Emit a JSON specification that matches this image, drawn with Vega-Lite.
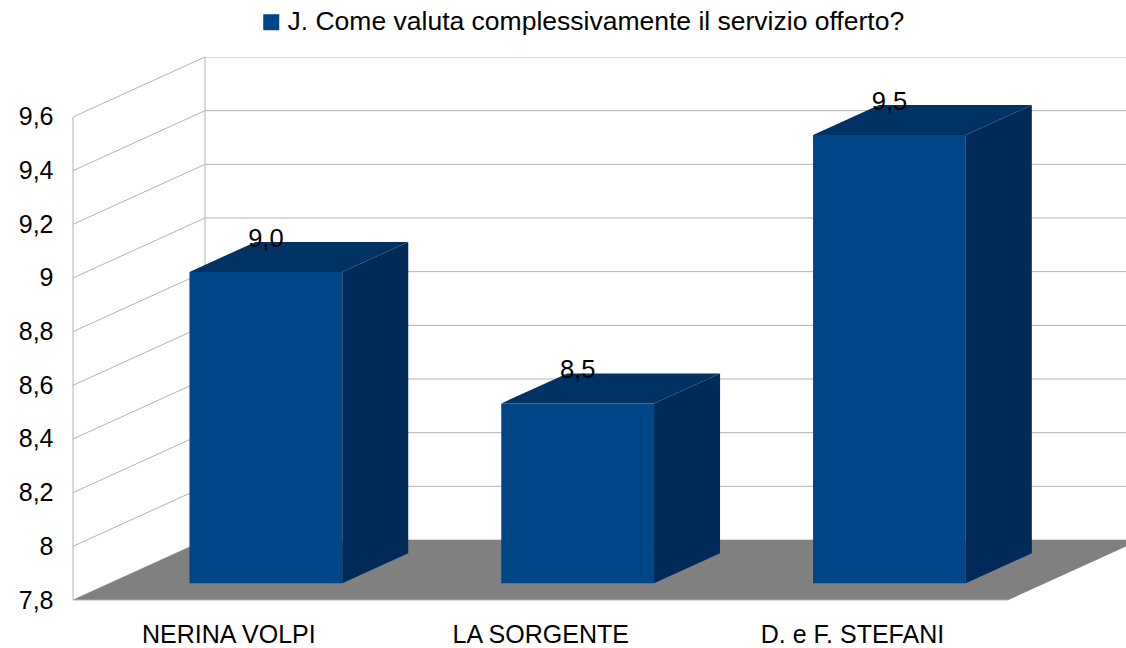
{
  "$schema": "https://vega.github.io/schema/vega-lite/v6.json",
  "autosize": {"type": "none"},
  "width": 1053,
  "height": 543,
  "padding": {"left": 73, "top": 57, "right": 0, "bottom": 48},
  "config": {
    "font": "Liberation Sans",
    "view": {"stroke": null},
    "axisX": {"disable": true},
    "axisY": {"labelExpr": "datum.value > 9.65 ? '' : replace(format(datum.value, '~g'), '.', ',')", "grid": false, "domain": false, "ticks": false, "labelPadding": 20, "labelFontSize": 25, "labelColor": "#000000", "labelFont": "Liberation Sans", "titleOpacity": 0, "titleFontSize": 1}
  },
  "datasets": {
    "bars": [
      {"name": "NERINA VOLPI", "value": 8.96},
      {"name": "LA SORGENTE", "value": 8.47},
      {"name": "D. e F. STEFANI", "value": 9.47}
    ],
    "ticks": [
      {"v": 7.8}, {"v": 8.0}, {"v": 8.2}, {"v": 8.4}, {"v": 8.6},
      {"v": 8.8}, {"v": 9.0}, {"v": 9.2}, {"v": 9.4}, {"v": 9.6}
    ]
  },
  "layer": [
    {
      "data": {"name": "ticks"},
      "transform": [{"calculate": "datum.v + 0.2236", "as": "vb"}],
      "mark": {"type": "rule", "color": "#b3b3b3", "strokeWidth": 1},
      "encoding": {
        "x": {"datum": -0.5, "type": "quantitative", "scale": {"domain": [-0.5, 2.8772], "nice": false, "zero": false}},
        "x2": {"datum": -0.0767},
        "y": {"field": "v", "type": "quantitative", "title": null, "scale": {"domain": [7.8, 9.8236], "nice": false, "zero": false}},
        "y2": {"field": "vb"}
      }
    },
    {
      "data": {"name": "ticks"},
      "transform": [{"calculate": "datum.v + 0.2236", "as": "vb"}],
      "mark": {"type": "rule", "color": "#b3b3b3", "strokeWidth": 1, "clip": true},
      "encoding": {
        "x": {"datum": -0.0767, "type": "quantitative", "scale": {"domain": [-0.5, 2.8772], "nice": false, "zero": false}},
        "x2": {"datum": 3.2},
        "y": {"field": "vb", "type": "quantitative", "title": null, "scale": {"domain": [7.8, 9.8236], "nice": false, "zero": false}}
      }
    },
    {
      "data": {"values": [{}]},
      "mark": {"type": "rule", "color": "#b3b3b3", "strokeWidth": 1},
      "encoding": {
        "x": {"datum": -0.5, "type": "quantitative", "scale": {"domain": [-0.5, 2.8772], "nice": false, "zero": false}},
        "y": {"datum": 7.8, "type": "quantitative", "title": null, "scale": {"domain": [7.8, 9.8236], "nice": false, "zero": false}},
        "y2": {"datum": 9.6}
      }
    },
    {
      "data": {"values": [{}]},
      "mark": {"type": "rule", "color": "#b3b3b3", "strokeWidth": 1},
      "encoding": {
        "x": {"datum": -0.0767, "type": "quantitative", "scale": {"domain": [-0.5, 2.8772], "nice": false, "zero": false}},
        "y": {"datum": 8.0236, "type": "quantitative", "title": null, "scale": {"domain": [7.8, 9.8236], "nice": false, "zero": false}},
        "y2": {"datum": 9.8236}
      }
    },
    {
      "data": {"values": [{}]},
      "transform": [
        {"calculate": "[0, 1]", "as": "d"},
        {"flatten": ["d"]},
        {"calculate": "7.8 + datum.d * 0.2236", "as": "fy"},
        {"calculate": "-0.5 + datum.d * 0.4233", "as": "fx"},
        {"calculate": "2.5 + datum.d * 0.4233", "as": "fx2"}
      ],
      "mark": {"type": "area", "orient": "horizontal", "color": "#808080", "clip": true},
      "encoding": {
        "y": {"field": "fy", "type": "quantitative", "title": null, "scale": {"domain": [7.8, 9.8236], "nice": false, "zero": false}},
        "x": {"field": "fx", "type": "quantitative", "scale": {"domain": [-0.5, 2.8772], "nice": false, "zero": false}},
        "x2": {"field": "fx2"}
      }
    },
    {
      "data": {"values": [{}]},
      "mark": {"type": "rule", "color": "#b3b3b3", "strokeWidth": 1},
      "encoding": {
        "x": {"datum": -0.5, "type": "quantitative", "scale": {"domain": [-0.5, 2.8772], "nice": false, "zero": false}},
        "x2": {"datum": 2.5},
        "y": {"datum": 7.8, "type": "quantitative", "title": null, "scale": {"domain": [7.8, 9.8236], "nice": false, "zero": false}}
      }
    },
    {
      "data": {"name": "bars"},
      "transform": [
        {"window": [{"op": "row_number", "as": "rn"}]},
        {"calculate": "datum.rn - 1", "as": "c"},
        {"calculate": "[0.28, 0.78]", "as": "d"},
        {"flatten": ["d"]},
        {"calculate": "datum.c + 0.245 + datum.d * 0.4233", "as": "px"},
        {"calculate": "datum.value + datum.d * 0.2236", "as": "py"},
        {"calculate": "7.8 + datum.d * 0.2236", "as": "py2"}
      ],
      "mark": {"type": "area", "orient": "vertical", "color": "#002b58"},
      "encoding": {
        "x": {"field": "px", "type": "quantitative", "scale": {"domain": [-0.5, 2.8772], "nice": false, "zero": false}},
        "y": {"field": "py", "type": "quantitative", "title": null, "scale": {"domain": [7.8, 9.8236], "nice": false, "zero": false}},
        "y2": {"field": "py2"},
        "detail": {"field": "name", "type": "nominal"}
      }
    },
    {
      "data": {"name": "bars"},
      "transform": [
        {"window": [{"op": "row_number", "as": "rn"}]},
        {"calculate": "datum.rn - 1", "as": "c"},
        {"calculate": "[0.28, 0.78]", "as": "d"},
        {"flatten": ["d"]},
        {"calculate": "datum.c - 0.245 + datum.d * 0.4233", "as": "px"},
        {"calculate": "datum.c + 0.245 + datum.d * 0.4233", "as": "px2"},
        {"calculate": "datum.value + datum.d * 0.2236", "as": "py"}
      ],
      "mark": {"type": "area", "orient": "horizontal", "color": "#003263"},
      "encoding": {
        "y": {"field": "py", "type": "quantitative", "title": null, "scale": {"domain": [7.8, 9.8236], "nice": false, "zero": false}},
        "x": {"field": "px", "type": "quantitative", "scale": {"domain": [-0.5, 2.8772], "nice": false, "zero": false}},
        "x2": {"field": "px2"},
        "detail": {"field": "name", "type": "nominal"}
      }
    },
    {
      "data": {"name": "bars"},
      "transform": [
        {"window": [{"op": "row_number", "as": "rn"}]},
        {"calculate": "datum.rn - 1", "as": "c"},
        {"calculate": "datum.c - 0.245 + 0.11852", "as": "fx"},
        {"calculate": "datum.c + 0.245 + 0.11852", "as": "fx2"},
        {"calculate": "datum.value + 0.06261", "as": "ftop"},
        {"calculate": "7.8 + 0.06261", "as": "fbot"}
      ],
      "mark": {"type": "rect"},
      "encoding": {
        "x": {"field": "fx", "type": "quantitative", "scale": {"domain": [-0.5, 2.8772], "nice": false, "zero": false}},
        "x2": {"field": "fx2"},
        "y": {"field": "fbot", "type": "quantitative", "title": null, "scale": {"domain": [7.8, 9.8236], "nice": false, "zero": false}},
        "y2": {"field": "ftop"},
        "color": {"datum": "J. Come valuta complessivamente il servizio offerto?", "type": "nominal", "scale": {"range": ["#004586"]},
          "legend": {"orient": "none", "legendX": 185, "legendY": -48, "title": null, "symbolType": "square", "symbolSize": 256, "symbolStrokeWidth": 0, "labelFontSize": 26.5, "labelColor": "#000000", "labelLimit": 1000, "labelOffset": 3, "padding": 0, "labelFont": "Liberation Sans"}}
      }
    },
    {
      "data": {"name": "bars"},
      "transform": [
        {"window": [{"op": "row_number", "as": "rn"}]},
        {"calculate": "datum.rn - 1", "as": "c"},
        {"calculate": "datum.c + 0.11852", "as": "lx"},
        {"calculate": "datum.value + 0.1744", "as": "ly"},
        {"calculate": "replace(format(datum.value, '.1f'), '.', ',')", "as": "lbl"}
      ],
      "mark": {"type": "text", "fontSize": 25.5, "color": "#000000", "baseline": "alphabetic", "align": "center", "dy": 5},
      "encoding": {
        "x": {"field": "lx", "type": "quantitative", "scale": {"domain": [-0.5, 2.8772], "nice": false, "zero": false}},
        "y": {"field": "ly", "type": "quantitative", "title": null, "scale": {"domain": [7.8, 9.8236], "nice": false, "zero": false}},
        "text": {"field": "lbl", "type": "nominal"}
      }
    },
    {
      "data": {"name": "bars"},
      "transform": [
        {"window": [{"op": "row_number", "as": "rn"}]},
        {"calculate": "datum.rn - 1", "as": "c"}
      ],
      "mark": {"type": "text", "fontSize": 25, "color": "#000000", "baseline": "alphabetic", "align": "center", "dy": 43},
      "encoding": {
        "x": {"field": "c", "type": "quantitative", "scale": {"domain": [-0.5, 2.8772], "nice": false, "zero": false}},
        "y": {"datum": 7.8, "type": "quantitative", "title": null, "scale": {"domain": [7.8, 9.8236], "nice": false, "zero": false}},
        "text": {"field": "name", "type": "nominal"}
      }
    }
  ]
}
